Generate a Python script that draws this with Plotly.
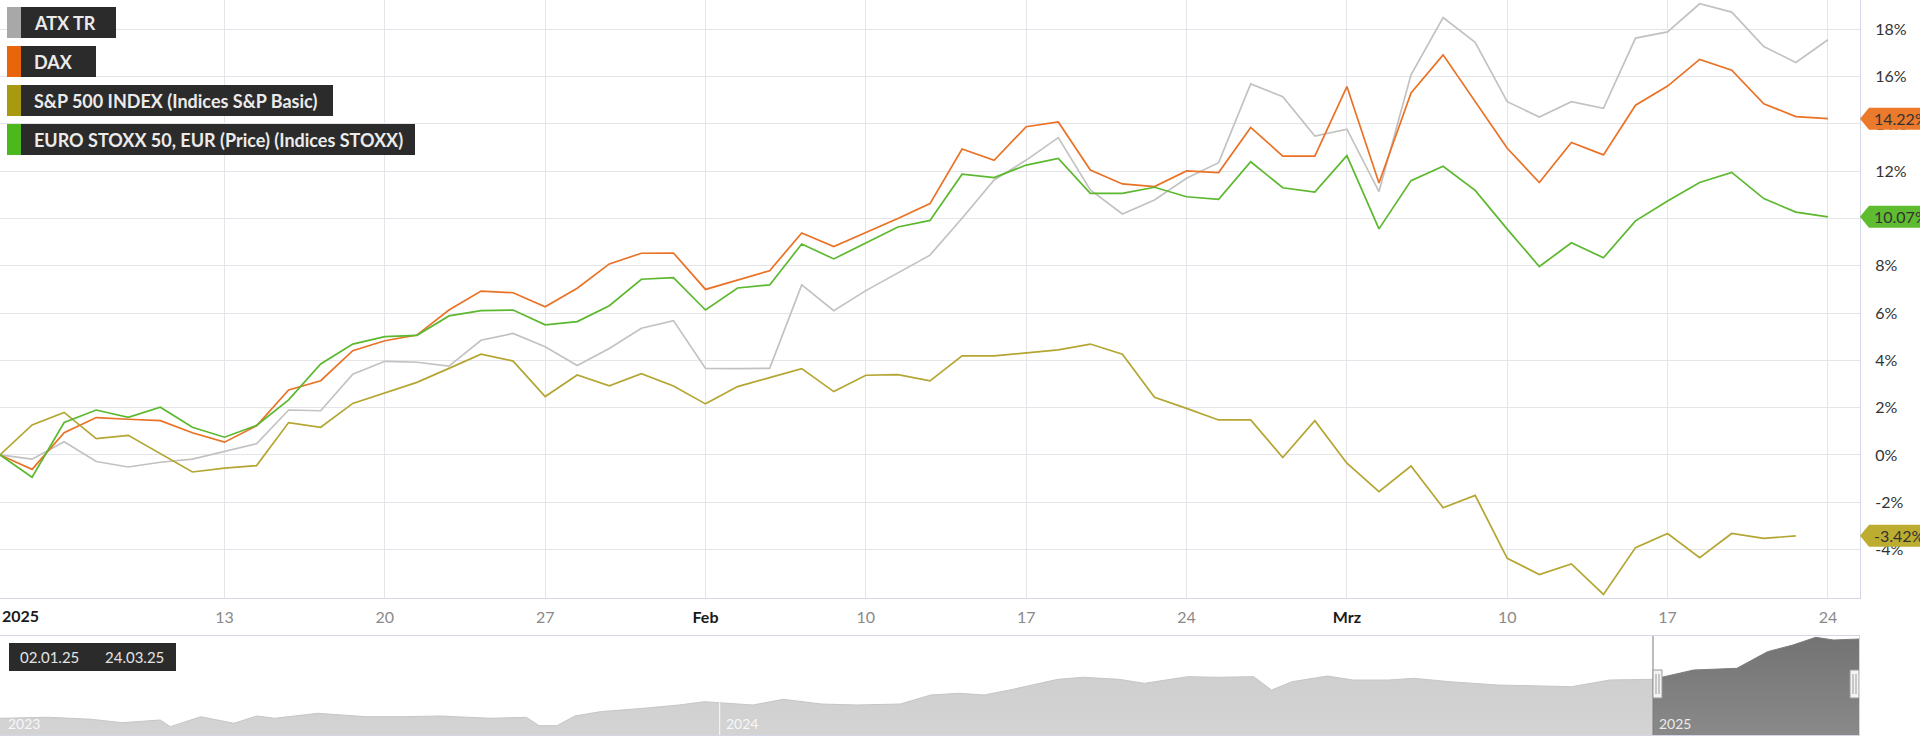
import plotly.graph_objects as go
import pandas as pd

# ---------------- data ----------------
trade_dates = [d.strftime("%Y-%m-%d") for d in pd.bdate_range("2025-01-02", "2025-03-24")]

atx_tr = [0, -0.18, 0.56, -0.28, -0.51, -0.31, -0.18, 0.14, 0.47, 1.90,
          1.87, 3.41, 3.96, 3.92, 3.76, 4.85, 5.14, 4.58, 3.78, 4.50,
          5.36, 5.68, 3.66, 3.65, 3.66, 7.19, 6.10, 6.95, 7.71, 8.45,
          10.01, 11.63, 12.47, 13.42, 11.21, 10.19, 10.78, 11.70, 12.36, 15.69,
          15.15, 13.49, 13.78, 11.14, 16.08, 18.50, 17.45, 14.94, 14.29, 14.94,
          14.66, 17.63, 17.89, 19.08, 18.73, 17.27, 16.60, 17.56]

dax = [0, -0.61, 0.94, 1.58, 1.51, 1.45, 0.94, 0.54, 1.23, 2.75,
       3.14, 4.41, 4.83, 5.07, 6.13, 6.93, 6.86, 6.27, 7.05, 8.08,
       8.53, 8.54, 7.00, 7.40, 7.79, 9.39, 8.81, 9.41, 10.00, 10.63,
       12.94, 12.46, 13.88, 14.08, 12.05, 11.46, 11.35, 12.01, 11.94, 13.85,
       12.64, 12.64, 15.58, 11.50, 15.31, 16.92, 14.95, 12.97, 11.52, 13.21,
       12.69, 14.79, 15.60, 16.73, 16.27, 14.85, 14.31, 14.22]

sp500 = [0, 1.27, 1.80, 0.69, 0.83, None, -0.72, -0.56, -0.45, 1.37,
         1.17, 2.18, None, 3.07, 3.66, 4.26, 3.97, 2.47, 3.38, 2.92,
         3.44, 2.92, 2.16, 2.89, 3.27, 3.65, 2.68, 3.37, 3.40, 3.13,
         4.19, 4.19, None, 4.44, 4.69, 4.26, 2.44, 1.97, 1.48, 1.48,
         -0.11, 1.45, -0.35, -1.55, -0.47, -2.23, -1.71, -4.37, -5.06, -4.61,
         -5.90, -3.92, -3.32, -4.34, -3.32, -3.53, -3.42, None]

stoxx50 = [0, -0.94, 1.37, 1.90, 1.59, 2.02, 1.17, 0.75, 1.25, 2.33,
           3.85, 4.69, 5.00, 5.06, 5.88, 6.10, 6.13, 5.50, 5.64, 6.31,
           7.43, 7.50, 6.13, 7.06, 7.19, 8.92, 8.29, 8.95, 9.64, 9.92,
           11.87, 11.73, 12.26, 12.54, 11.06, 11.06, 11.32, 10.92, 10.81, 12.40,
           11.30, 11.12, 12.66, 9.56, 11.60, 12.21, 11.19, 9.55, 7.97, 8.97,
           8.34, 9.90, 10.74, 11.52, 11.95, 10.84, 10.27, 10.07]

series_names = ["ATX TR", "DAX", "S&P 500 INDEX (Indices S&P Basic)",
                "EURO STOXX 50, EUR (Price) (Indices STOXX)"]
series_values = [atx_tr, dax, sp500, stoxx50]
series_colors = ["#c2c2c2", "#ea7125", "#b4a632", "#5cb82e"]
legend_colors = ["#a8a8a8", "#e8650a", "#a89a10", "#4cb81c"]
tag_colors = [None, "#ec7a2c", "#bcad30", "#5fbb2f"]

tick_dates = ["2025-01-13", "2025-01-20", "2025-01-27", "2025-02-03", "2025-02-10",
              "2025-02-17", "2025-02-24", "2025-03-03", "2025-03-10", "2025-03-17",
              "2025-03-24"]
tick_labels = ["13", "20", "27", "Feb", "10", "17", "24", "Mrz", "10", "17", "24"]
month_labels = {"Feb", "Mrz"}
year_label = "2025"
y_ticks = [-4, -2, 0, 2, 4, 6, 8, 10, 12, 14, 16, 18]

# navigator (2-year overview of ATX TR)
nav_dates = ["2023-03-24", "2023-04-12", "2023-04-29", "2023-05-11", "2023-05-26",
             "2023-05-30", "2023-06-11", "2023-06-24", "2023-07-03", "2023-07-10",
             "2023-07-27", "2023-08-15", "2023-08-30", "2023-09-13", "2023-10-03",
             "2023-10-17", "2023-10-22", "2023-10-29", "2023-11-05", "2023-11-15",
             "2023-12-02", "2023-12-16", "2023-12-26", "2023-12-31", "2024-01-14",
             "2024-01-26", "2024-02-10", "2024-02-24", "2024-03-12", "2024-03-24",
             "2024-04-04", "2024-04-14", "2024-04-24", "2024-05-13", "2024-05-23",
             "2024-06-06", "2024-06-16", "2024-07-03", "2024-07-15", "2024-07-29",
             "2024-08-05", "2024-08-13", "2024-08-27", "2024-09-06", "2024-09-20",
             "2024-09-30", "2024-10-14", "2024-11-02", "2024-11-17", "2024-12-01",
             "2024-12-16", "2025-01-02", "2025-01-18", "2025-02-04", "2025-02-16",
             "2025-02-26", "2025-03-07", "2025-03-14", "2025-03-24"]
nav_values = [6986, 7030, 6943, 6796, 6913, 6624, 7056, 6770, 7086, 6986,
              7202, 7056, 7056, 7086, 6986, 7030, 6667, 6667, 7086, 7272,
              7418, 7561, 7704, 7660, 7561, 7807, 7604, 7561, 7604, 7993,
              8066, 7993, 8209, 8671, 8758, 8671, 8498, 8784, 8758, 8784,
              8209, 8568, 8814, 8641, 8641, 8714, 8568, 8425, 8382, 8352,
              8641, 8671, 9073, 9146, 9864, 10153, 10486, 10369, 10412]
sel_start, sel_end = "2025-01-02", "2025-03-24"
sel_text = ["02.01.25", "24.03.25"]
nav_years = ["2023", "2024", "2025"]
nav_year_dates = ["2023-03-24", "2024-01-01", "2025-01-02"]

# ---------------- layout helpers ----------------
W, H = 1920, 736
PLOT_W = 1860
MAIN_BOTTOM = 598
NAV_TOP, NAV_BOTTOM = 636, 735
Y_RANGE = [-6.05, 19.24]
FONT = "Lato, 'Open Sans', sans-serif"


def px(x):
    return x / PLOT_W


def py(y):
    return 1 - y / H


fig = go.Figure()

for name, vals, col in zip(series_names, series_values, series_colors):
    fig.add_trace(go.Scatter(x=trade_dates, y=vals, mode="lines", name=name,
                             line=dict(color=col, width=1.7), connectgaps=True,
                             hoverinfo="skip", showlegend=False))

# navigator traces
nav_df = pd.DataFrame({"d": pd.to_datetime(nav_dates), "v": nav_values})
light = nav_df[nav_df.d <= pd.Timestamp(sel_start)]
dark = nav_df[nav_df.d >= pd.Timestamp(sel_start)]
fig.add_trace(go.Scatter(x=light.d, y=light.v, mode="lines", fill="tozeroy",
                         line=dict(color="#c6c6c6", width=1),
                         fillgradient=dict(type="vertical",
                                           colorscale=[[0, "#dedede"], [1, "#cfcfcf"]]),
                         xaxis="x2", yaxis="y2", hoverinfo="skip", showlegend=False))
fig.add_trace(go.Scatter(x=dark.d, y=dark.v, mode="lines", fill="tozeroy",
                         line=dict(color="#7c7c7c", width=1),
                         fillgradient=dict(type="vertical",
                                           colorscale=[[0, "#ababab"], [1, "#737373"]]),
                         xaxis="x2", yaxis="y2", hoverinfo="skip", showlegend=False))

ticktext = [f"<b><span style='color:#1a1a1a'>{t}</span></b>" if t in month_labels else t
            for t in tick_labels]

fig.update_layout(
    width=W, height=H,
    margin=dict(l=0, r=W - PLOT_W, t=0, b=0),
    paper_bgcolor="white", plot_bgcolor="white",
    font=dict(family=FONT, size=16, color="#333333"),
    showlegend=False,
    xaxis=dict(type="category", range=[0, len(trade_dates)],
               domain=[0, 1], anchor="y",
               tickmode="array", tickvals=tick_dates, ticktext=ticktext,
               tickfont=dict(size=16, color="#8a8a8a"),
               ticks="", ticklabelstandoff=5,
               showgrid=True, gridcolor="#e4e4ea", gridwidth=1,
               showline=True, linecolor="#d3d6e6", linewidth=1, mirror=True,
               zeroline=False, fixedrange=True),
    yaxis=dict(range=Y_RANGE, domain=[py(MAIN_BOTTOM), 1], anchor="x",
               side="right", tickmode="array", tickvals=y_ticks,
               ticktext=[f"{v}%" for v in y_ticks],
               tickfont=dict(size=16, color="#333333"),
               ticks="", ticklabelstandoff=11,
               showgrid=True, gridcolor="#e4e4ea", gridwidth=1,
               showline=True, linecolor="#d3d6e6", linewidth=1, mirror=True,
               zeroline=False, fixedrange=True),
    xaxis2=dict(type="date", range=[nav_dates[0], nav_dates[-1]],
                domain=[0, 1859 / PLOT_W], anchor="y2",
                showticklabels=False, ticks="", showgrid=False,
                showline=True, linecolor="#d3d6e6", mirror=True, zeroline=False),
    yaxis2=dict(range=[6265, 10542], domain=[py(NAV_BOTTOM), py(NAV_TOP)], anchor="x2",
                showticklabels=False, ticks="", showgrid=False,
                showline=True, linecolor="#d3d6e6", mirror=True, zeroline=False),
)

shapes = []
annotations = []

# year label under the first point (left aligned)
annotations.append(dict(x=0, y=py(615), xref="paper", yref="paper",
                        text=f"<b>{year_label}</b>",
                        xanchor="left", yanchor="middle", showarrow=False,
                        font=dict(size=16, color="#1a1a1a", family=FONT)))

# custom legend boxes
legend_right = [116, 96, 333, 415]
for i, (name, col, right) in enumerate(zip(series_names, legend_colors, legend_right)):
    top = 7 + i * 39
    bot = top + 31
    shapes.append(dict(type="rect", xref="paper", yref="paper", x0=px(7), x1=px(21),
                       y0=py(bot), y1=py(top), fillcolor=col, line=dict(width=0),
                       layer="above"))
    shapes.append(dict(type="rect", xref="paper", yref="paper", x0=px(21), x1=px(right),
                       y0=py(bot), y1=py(top), fillcolor="#2b2b2b", line=dict(width=0),
                       layer="above"))
    annotations.append(dict(x=px(32), y=py((top + bot) / 2), xref="paper", yref="paper",
                            text=f"<b>{name}</b>", xanchor="left", yanchor="middle",
                            showarrow=False,
                            font=dict(size=18, color="#ebebeb", family=FONT)))

# last-value tags at the right edge
ppu = MAIN_BOTTOM / (Y_RANGE[1] - Y_RANGE[0])
half = 11 / ppu
for vals, col in zip(series_values, tag_colors):
    if col is None:
        continue
    last = [v for v in vals if v is not None][-1]
    x_tip, x_body, x_end = 1.0, px(PLOT_W + 9), px(W + 5)
    path = (f"M {x_tip},{last} L {x_body},{last + half} L {x_end},{last + half} "
            f"L {x_end},{last - half} L {x_body},{last - half} Z")
    shapes.append(dict(type="path", path=path, xref="paper", yref="y",
                       fillcolor=col, line=dict(width=0), layer="above"))
    annotations.append(dict(x=px(PLOT_W + 12), y=last, xref="paper", yref="y",
                            text=f"{last:.2f}%", xanchor="left", yanchor="middle",
                            showarrow=False,
                            font=dict(size=16, color="#333333", family=FONT)))

# navigator decorations
shapes.append(dict(type="line", xref="x2", yref="y2 domain", x0=nav_year_dates[1],
                   x1=nav_year_dates[1], y0=0, y1=1,
                   line=dict(color="rgba(255,255,255,0.9)", width=1), layer="above"))
shapes.append(dict(type="line", xref="x2", yref="y2 domain", x0=sel_start, x1=sel_start,
                   y0=0, y1=1, line=dict(color="#7a7a7a", width=1), layer="above"))
for anchor, (a, b) in [(sel_start, (0, 9)), (sel_end, (-9, 0))]:
    shapes.append(dict(type="rect", xref="x2", yref="paper", xsizemode="pixel",
                       xanchor=anchor, x0=a, x1=b, y0=py(698), y1=py(670),
                       fillcolor="#f4f4f4", line=dict(color="#9a9a9a", width=1),
                       layer="above"))
    for off in (3, 6):
        shapes.append(dict(type="line", xref="x2", yref="paper", xsizemode="pixel",
                           xanchor=anchor, x0=a + off, x1=a + off,
                           y0=py(694), y1=py(674),
                           line=dict(color="#9a9a9a", width=1), layer="above"))

# selected-range box
shapes.append(dict(type="rect", xref="paper", yref="paper", x0=px(9), x1=px(176),
                   y0=py(671), y1=py(643), fillcolor="#2b2b2b", line=dict(width=0),
                   layer="above"))
for txt, xs in zip(sel_text, [18, 103]):
    annotations.append(dict(x=px(xs), y=py(657), xref="paper", yref="paper", text=txt,
                            xanchor="left", yanchor="middle", showarrow=False,
                            font=dict(size=15, color="#e4e4e4", family=FONT)))

# navigator year labels
for yr, d in zip(nav_years, nav_year_dates):
    annotations.append(dict(x=d, y=py(723), xref="x2", yref="paper", text=yr,
                            xanchor="left", yanchor="middle", xshift=4 if yr != "2023" else 6,
                            showarrow=False,
                            font=dict(size=14, color="rgba(255,255,255,0.85)", family=FONT)))

fig.update_layout(shapes=shapes, annotations=annotations)

fig.write_html("out.html", config={"displayModeBar": False},
               post_script="document.body.style.margin='0';"
                           "document.body.style.overflow='hidden';")
